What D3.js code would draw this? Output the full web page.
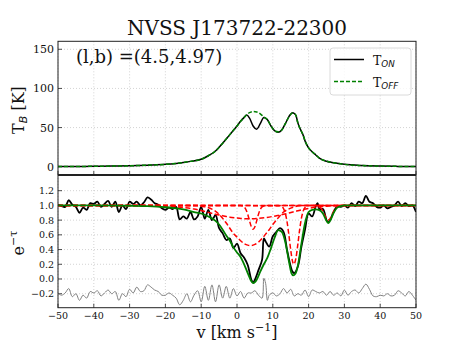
<!DOCTYPE html>
<html>
<head>
<meta charset="utf-8">
<script src="https://cdn.jsdelivr.net/npm/d3@7"></script>
<style>
  body { margin: 0; background: #fff; }
  svg { display: block; }
</style>
</head>
<body>
<div class="chart"></div>
<script>
const width = 463
const height = 347

// top panel: brightness temperature spectra
const vTB = [-50,-45,-40,-35,-30,-25,-20,-17,-15,-13,-10,-8,-6,-4,-2,0,1,2,2.7,3.5,4.5,5.5,6.5,7.5,8.5,9.5,10.5,11.5,12.5,13.5,14.5,15.5,16,16.5,17,18,18.5,19,20,21,22,23,25,27,30,35,40,45,50]
const tOn = [0.2,0.3,0.5,0.8,1.2,2,3,4.2,5.3,6.8,9.5,14,20,30,41,52,58,63,66,62,52,48,55,63,60,52,46,44,47,55,64,69,68,65,56,45,40,33,24,19,15,11,7,5,3,1.5,0.8,0.4,0.3]
const tOff = [0.2,0.3,0.5,0.8,1.2,2,3,4.2,5.3,6.8,9.5,14,20,30,41,52,58,63,66.5,69,70.5,70,67.5,63.5,60,52,46,44.5,47,55,63.5,68.5,68,65,56,45,40,33,24,19,15,11,7,5,3,1.5,0.8,0.4,0.3]

// bottom panel: absorption spectrum
const vObs = [-50,-49,-48,-47,-46,-45,-44,-43,-42,-41,-40,-39,-38,-37,-36,-35,-34,-33,-32,-31,-30,-29,-28,-27,-26,-25,-24,-23,-22,-21,-20,-19,-18,-17,-16,-15,-14,-13,-12,-11,-10,-9,-8,-7,-6,-5,-4,-3,-2,-1,0,1,2,3,4,4.5,5,6,7,7.5,8,9,10,11,12,13,14,15,15.5,16,17,18,19,20,21,22,22.5,23,24,25,25.5,26,27,28,29,30,31,32,33,34,35,36,37,38,39,40,41,42,43,44,45,46,47,48,49,50]
const eObs = [1.01,0.99,0.98,1.07,1.01,0.98,0.90,0.97,0.94,1.03,1.02,1.05,0.98,1.02,1.06,0.98,1.05,0.91,1.00,0.95,1.05,1.02,1.05,1.00,1.04,1.11,1.08,1.03,1.01,0.96,0.94,0.97,0.95,0.98,0.81,0.85,0.82,0.91,0.81,0.85,0.98,0.82,0.94,0.80,0.87,0.69,0.62,0.53,0.55,0.42,0.48,0.35,0.29,0.19,-0.01,-0.05,-0.01,0.12,0.26,0.55,0.51,0.44,0.58,0.64,0.69,0.64,0.39,0.17,0.10,0.08,0.17,0.44,0.67,0.89,0.85,0.99,1.03,0.95,0.95,0.80,0.77,0.80,0.91,0.99,0.98,1.00,0.97,1.03,0.99,1.05,1.03,1.13,1.05,1.03,0.98,0.97,1.00,0.96,0.98,1.00,1.05,0.99,1.03,0.99,1.00,0.91]

const vFit = [-50,-40,-30,-25,-20,-17,-15,-12,-10,-8,-6,-5,-4,-3,-2,-1,0,1,2,3,4,4.6,5.5,6.5,7.5,8.5,9.5,10.5,11.5,12.5,13.5,14.5,15.2,15.7,16.3,17,18,19,20,21,22,23,24,25,25.5,26,27,28,29,30,40,50]
const eFit = [1.0,1.0,0.995,0.99,0.975,0.96,0.945,0.91,0.89,0.85,0.79,0.74,0.67,0.59,0.52,0.43,0.36,0.30,0.20,0.08,-0.03,-0.055,-0.01,0.10,0.20,0.29,0.42,0.56,0.665,0.64,0.50,0.24,0.08,0.05,0.07,0.18,0.48,0.76,0.91,0.94,0.945,0.935,0.89,0.79,0.76,0.79,0.90,0.97,0.99,1.0,1.0,1.0]

// fitted components
const vCompA = [-50,-12,-9,-7,-5,-3,-1,0,1,2,3,4,5,6,7,8,9,10,11,12,13,14,16,18,50]
const eCompA = [1,1,0.98,0.95,0.88,0.76,0.62,0.57,0.52,0.48,0.46,0.455,0.47,0.50,0.55,0.61,0.67,0.74,0.80,0.86,0.91,0.94,0.98,1,1]
const vCompB = [-50,1,2,3,3.5,4,4.5,5,5.5,6,7,8,50]
const eCompB = [1,1,0.98,0.88,0.79,0.71,0.675,0.71,0.79,0.88,0.98,1,1]
const vCompC = [-50,-25,-20,-15,-12,-10,-8,-6,-4,-2,0,2,4,6,8,10,12,14,16,18,20,22,25,30,50]
const eCompC = [1,1,0.995,0.97,0.95,0.93,0.905,0.88,0.86,0.84,0.83,0.82,0.82,0.825,0.835,0.85,0.87,0.89,0.915,0.94,0.96,0.975,0.99,1,1]
const vCompD = [-50,12,12.5,13,13.5,14,14.5,15,15.5,15.9,16.5,17,17.5,18,18.5,19,19.5,20,21,50]
const eCompD = [1,0.996,0.985,0.957,0.892,0.771,0.595,0.396,0.243,0.2,0.294,0.474,0.671,0.827,0.923,0.972,0.991,0.997,1,1]
const vCompE = [-50,22,22.5,23,23.5,24,24.5,25,25.5,26,26.5,27,27.5,28,28.5,29,50]
const eCompE = [1,1,0.995,0.985,0.96,0.92,0.87,0.82,0.80,0.82,0.87,0.92,0.96,0.985,0.995,1,1]

// residual (offset)
const vRes = [-50,-49,-48,-47,-46,-45,-44,-43,-42,-41,-40,-39,-38,-37,-36,-35,-34,-33,-32,-31,-30,-29,-28,-27,-26,-25,-24,-23,-22,-21,-20,-19,-18,-17,-16,-15,-14,-13,-12,-11,-10,-9,-8,-7,-6,-5,-4,-3,-2,-1,0,1,2,3,4,5,6,7,7.5,8,8.5,9,10,11,12,13,14,15,16,17,18,19,20,21,22,23,24,25,26,27,28,29,30,31,32,33,34,35,36,37,38,39,40,41,42,43,44,45,46,47,48,49,50]
const eRes = [-0.195,-0.22,-0.19,-0.13,-0.24,-0.20,-0.29,-0.22,-0.26,-0.17,-0.19,-0.16,-0.23,-0.19,-0.15,-0.20,-0.17,-0.29,-0.20,-0.24,-0.14,-0.19,-0.11,-0.17,-0.16,-0.08,-0.11,-0.15,-0.17,-0.22,-0.22,-0.19,-0.22,-0.26,-0.35,-0.29,-0.20,-0.31,-0.22,-0.16,-0.31,-0.10,-0.29,-0.08,-0.31,-0.08,-0.26,-0.10,-0.26,-0.13,-0.23,-0.17,-0.26,-0.19,-0.19,-0.16,-0.22,-0.26,0.01,-0.06,-0.29,-0.22,-0.19,-0.23,-0.20,-0.13,-0.19,-0.14,-0.23,-0.20,-0.22,-0.15,-0.24,-0.15,-0.17,-0.19,-0.17,-0.22,-0.17,-0.22,-0.19,-0.23,-0.15,-0.22,-0.17,-0.15,-0.19,-0.13,-0.07,-0.14,-0.23,-0.24,-0.22,-0.23,-0.20,-0.23,-0.22,-0.16,-0.19,-0.23,-0.17,-0.22,-0.29]

const xTicks = [-50,-40,-30,-20,-10,0,10,20,30,40,50]
const topTicks = [0,50,100,150]
const botTicks = [-0.2,0.0,0.2,0.4,0.6,0.8,1.0,1.2]

const serif = "DejaVu Serif"
const sans = "DejaVu Sans"

const svg = d3.select('.chart')
  .append('svg')
  .attr('width', width)
  .attr('height', height)

const left = 58, right = 416
const topY0 = 41.3, topY1 = 175
const botY0 = 175, botY1 = 307.7

const x = d3.scaleLinear().domain([-50, 50]).range([left, right])
const yTop = d3.scaleLinear().domain([-10.6, 160.2]).range([topY1, topY0])
const yBot = d3.scaleLinear().domain([-0.39, 1.413]).range([botY1, botY0])

function pts(vs, es) { return vs.map((v, i) => [v, es[i]]) }

function panel(y, ticks, y0, y1, fontSize, fmt, clipId) {
  const g = svg.append("g")
  // grid
  g.selectAll(".gx").data(xTicks).join("line")
    .attr("x1", d => x(d)).attr("x2", d => x(d))
    .attr("y1", y0).attr("y2", y1)
    .attr("stroke", "#c8c8c8").attr("stroke-width", 0.8)
    .attr("stroke-dasharray", "1,2")
  g.selectAll(".gy").data(ticks).join("line")
    .attr("x1", left).attr("x2", right)
    .attr("y1", d => y(d)).attr("y2", d => y(d))
    .attr("stroke", "#c8c8c8").attr("stroke-width", 0.8)
    .attr("stroke-dasharray", "1,2")
  svg.append("clipPath").attr("id", clipId)
    .append("rect").attr("x", left).attr("y", y0)
    .attr("width", right - left).attr("height", y1 - y0)
  // y axis labels & ticks
  const ax = svg.append("g").attr("class", "axis")
  ax.selectAll("line").data(ticks).join("line")
    .attr("x1", left).attr("x2", left + 4)
    .attr("y1", d => y(d)).attr("y2", d => y(d))
    .attr("stroke", "#222").attr("stroke-width", 0.8)
  ax.selectAll("text").data(ticks).join("text")
    .attr("x", left - 4).attr("y", d => y(d))
    .attr("dy", "0.36em")
    .attr("text-anchor", "end")
    .attr("font-family", serif).attr("font-size", fontSize)
    .attr("fill", "#111")
    .text(fmt)
  // x ticks (inward, bottom)
  ax.selectAll(".xt").data(xTicks).join("line")
    .attr("x1", d => x(d)).attr("x2", d => x(d))
    .attr("y1", y1).attr("y2", y1 - 4)
    .attr("stroke", "#222").attr("stroke-width", 0.8)
  return g
}

const minus = s => s.replace("-", "\u2212")

panel(yTop, topTicks, topY0, topY1, 11, d => d, "clipTop")
panel(yBot, botTicks, botY0, botY1, 9.5, d => minus(d3.format(".1f")(d)), "clipBot")

// top panel lines
const lineTop = d3.line().x(d => x(d[0])).y(d => yTop(d[1])).curve(d3.curveMonotoneX)
const gTop = svg.append("g").attr("clip-path", "url(#clipTop)")
gTop.append("path").attr("d", lineTop(pts(vTB, tOn)))
  .attr("fill", "none").attr("stroke", "black").attr("stroke-width", 1.5)
gTop.append("path").attr("d", lineTop(pts(vTB, tOff)))
  .attr("fill", "none").attr("stroke", "green").attr("stroke-width", 1.5)
  .attr("stroke-dasharray", "4,2")

// bottom panel lines
const lineBot = d3.line().x(d => x(d[0])).y(d => yBot(d[1])).curve(d3.curveMonotoneX)
const lineNoisy = d3.line().x(d => x(d[0])).y(d => yBot(d[1])).curve(d3.curveCatmullRom.alpha(0.5))
const gBot = svg.append("g").attr("clip-path", "url(#clipBot)")
gBot.append("path").attr("d", lineNoisy(pts(vObs, eObs)))
  .attr("fill", "none").attr("stroke", "black").attr("stroke-width", 1.8)
gBot.append("path").attr("d", lineNoisy(pts(vRes, eRes)))
  .attr("fill", "none").attr("stroke", "#808080").attr("stroke-width", 1)
const comps = [[vCompA, eCompA], [vCompB, eCompB], [vCompC, eCompC], [vCompD, eCompD], [vCompE, eCompE]]
comps.forEach(c => {
  gBot.append("path").attr("d", lineBot(pts(c[0], c[1])))
    .attr("fill", "none").attr("stroke", "red").attr("stroke-width", 1.5)
    .attr("stroke-dasharray", "5,2.5")
})
gBot.append("path").attr("d", lineBot(pts(vFit, eFit)))
  .attr("fill", "none").attr("stroke", "green").attr("stroke-width", 1.8)

// x tick labels
svg.append("g").selectAll("text").data(xTicks).join("text")
  .attr("x", d => x(d)).attr("y", botY1 + 11)
  .attr("text-anchor", "middle")
  .attr("font-family", serif).attr("font-size", 9.5).attr("fill", "#111")
  .text(d => minus(String(d)))

// frames
svg.append("rect").attr("x", left).attr("y", topY0)
  .attr("width", right - left).attr("height", topY1 - topY0 - 0.5)
  .attr("fill", "none").attr("stroke", "#222").attr("stroke-width", 1)
svg.append("rect").attr("x", left).attr("y", botY0 + 0.5)
  .attr("width", right - left).attr("height", botY1 - botY0 - 0.5)
  .attr("fill", "none").attr("stroke", "#222").attr("stroke-width", 1)

// title
svg.append("text").attr("x", 237).attr("y", 35)
  .attr("text-anchor", "middle")
  .attr("font-family", serif).attr("font-size", 20).attr("fill", "#111")
  .text("NVSS J173722-22300")

// annotation
svg.append("text").attr("x", 76).attr("y", 63)
  .attr("font-family", serif).attr("font-size", 18).attr("fill", "#111")
  .text("(l,b) =(4.5,4.97)")

// legend
const lg = svg.append("g")
lg.append("rect").attr("x", 330).attr("y", 48).attr("width", 81).attr("height", 47)
  .attr("rx", 3).attr("fill", "white").attr("fill-opacity", 0.8)
  .attr("stroke", "#d0d0d0").attr("stroke-width", 0.8)
lg.append("line").attr("x1", 334).attr("x2", 364).attr("y1", 59.5).attr("y2", 59.5)
  .attr("stroke", "black").attr("stroke-width", 1.5)
lg.append("line").attr("x1", 334).attr("x2", 364).attr("y1", 81.5).attr("y2", 81.5)
  .attr("stroke", "green").attr("stroke-width", 1.5).attr("stroke-dasharray", "4,2")
function subLabel(xp, yp, main, sub, size) {
  const t = lg.append("text").attr("x", xp).attr("y", yp)
    .attr("font-family", serif).attr("font-size", size).attr("fill", "#111")
  t.append("tspan").text(main)
  t.append("tspan").attr("font-family", sans).attr("font-style", "italic")
    .attr("font-size", size * 0.7).attr("dy", 2).text(sub)
  return t
}
subLabel(373, 65, "T", "ON", 12.5)
subLabel(373, 87, "T", "OFF", 12.5)

// y labels
const yl1 = svg.append("text")
  .attr("transform", "translate(24,110) rotate(-90)")
  .attr("text-anchor", "middle")
  .attr("font-family", serif).attr("font-size", 16).attr("fill", "#111")
yl1.append("tspan").text("T")
yl1.append("tspan").attr("font-family", sans).attr("font-style", "italic")
  .attr("font-size", 11).attr("dy", 3).text("B")
yl1.append("tspan").attr("dy", -3).text(" [K]")

const yl2 = svg.append("text")
  .attr("transform", "translate(24,243) rotate(-90)")
  .attr("text-anchor", "middle")
  .attr("font-family", serif).attr("font-size", 16).attr("fill", "#111")
yl2.append("tspan").text("e")
yl2.append("tspan").attr("font-size", 11).attr("dy", -7).text("\u2212\u03c4")

// x label
const xl = svg.append("text").attr("x", 237).attr("y", 338)
  .attr("text-anchor", "middle")
  .attr("font-family", serif).attr("font-size", 16).attr("fill", "#111")
xl.append("tspan").text("v [km s")
xl.append("tspan").attr("font-size", 11).attr("dy", -7).text("\u22121")
xl.append("tspan").attr("dy", 7).text("]")
</script>
</body>
</html>
